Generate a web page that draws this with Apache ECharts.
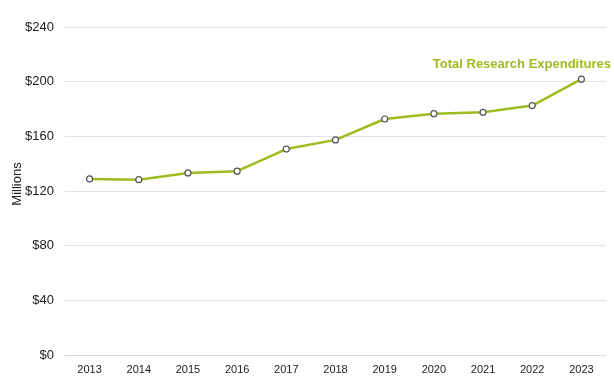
<!DOCTYPE html>
<html>
<head>
<meta charset="utf-8">
<script src="https://cdn.jsdelivr.net/npm/echarts@6/dist/echarts.min.js"></script>
<style>
html,body{margin:0;padding:0;background:#fff;}
#c{width:614px;height:380px;}
</style>
</head>
<body>
<div id="c"></div>
<script>
const years = ['2013','2014','2015','2016','2017','2018','2019','2020','2021','2022','2023'];
const expenditures = [128.8, 128.3, 133.2, 134.5, 150.7, 157.4, 172.7, 176.6, 177.6, 182.5, 201.8];
const seriesName = 'Total Research Expenditures';
const yTicks = [0, 40, 80, 120, 160, 200, 240];

const chart = echarts.init(document.getElementById('c'), null, {renderer: 'canvas'});
const green = '#9cbd1f';
const ff = '"Liberation Sans", Arial, sans-serif';
chart.setOption({
  animation: false,
  grid: {left: 65, right: 8, top: 27, bottom: 25, containLabel: false, outerBoundsMode: 'none'},
  textStyle: {fontFamily: ff},
  xAxis: {
    type: 'category',
    data: years,
    boundaryGap: true,
    axisLine: {show: true, lineStyle: {color: '#d9d9d9'}},
    axisTick: {show: false},
    axisLabel: {color: '#222', fontSize: 11, margin: 9, fontFamily: ff}
  },
  yAxis: {
    type: 'value',
    min: yTicks[0],
    max: yTicks[yTicks.length - 1],
    interval: 40,
    name: 'Millions',
    nameLocation: 'middle',
    nameGap: 41,
    nameRotate: 90,
    nameMoveOverlap: false,
    nameTextStyle: {color: '#222', fontSize: 13, fontFamily: ff, padding: [0, 0, 0, 14]},
    axisLine: {show: false},
    axisTick: {show: false},
    splitLine: {lineStyle: {color: '#e3e3e3', width: 1}},
    axisLabel: {color: '#222', fontSize: 13, margin: 11, formatter: v => '$' + v, fontFamily: ff}
  },
  series: [{
    name: seriesName,
    type: 'line',
    data: expenditures,
    symbol: 'circle',
    symbolSize: 6,
    lineStyle: {color: green, width: 2.5},
    itemStyle: {color: '#fff', borderColor: '#555', borderWidth: 1.2}
  }],
  graphic: [{
    type: 'text',
    right: 3,
    top: 58,
    style: {
      text: seriesName,
      fill: green,
      font: 'bold 13px "Liberation Sans", Arial, sans-serif'
    }
  }]
});
</script>
</body>
</html>
